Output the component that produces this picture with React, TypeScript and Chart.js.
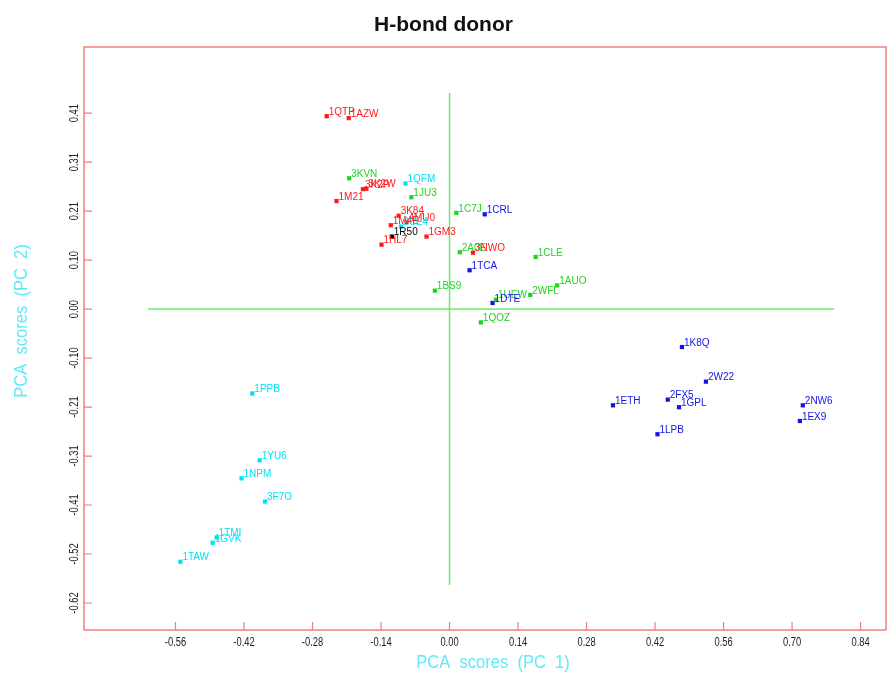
import React, { useEffect, useRef } from "react";
import { Chart, registerables } from "chart.js";

Chart.register(...registerables);

// ---- data ----
const greenNames = ["3KVN", "1JU3", "1C7J", "2A0E", "1CLE", "1BS9", "1AUO", "2WFL", "1UEW", "1QOZ"];
const greenX = [-0.205, -0.078, 0.014, 0.021, 0.176, -0.030, 0.220, 0.165, 0.095, 0.064];
const greenY = [0.276, 0.236, 0.203, 0.120, 0.110, 0.039, 0.050, 0.030, 0.020, -0.028];

const redNames = ["1QTP", "1AZW", "3K2P", "3K2W", "1M21", "3K84", "4MU0", "1M4E", "1GM3", "1HL7", "3NWO"];
const redX = [-0.251, -0.206, -0.177, -0.170, -0.231, -0.104, -0.088, -0.120, -0.047, -0.139, 0.048];
const redY = [0.407, 0.403, 0.253, 0.254, 0.228, 0.197, 0.184, 0.177, 0.153, 0.136, 0.119];

const blueNames = ["1CRL", "1TCA", "1DTE", "1K8Q", "2W22", "1ETH", "2FX5", "1GPL", "2NW6", "1EX9", "1LPB"];
const blueX = [0.072, 0.041, 0.088, 0.475, 0.524, 0.334, 0.446, 0.469, 0.722, 0.716, 0.425];
const blueY = [0.200, 0.082, 0.013, -0.080, -0.153, -0.203, -0.191, -0.207, -0.203, -0.236, -0.264];

const cyanNames = ["1QFM", "2CE4", "1PPB", "1YU6", "1NPM", "3F7O", "1TMI", "1GVK", "1TAW"];
const cyanX = [-0.090, -0.099, -0.403, -0.388, -0.425, -0.377, -0.476, -0.484, -0.550];
const cyanY = [0.265, 0.174, -0.178, -0.319, -0.357, -0.406, -0.482, -0.493, -0.533];

const blackNames = ["1R50"];
const blackX = [-0.118];
const blackY = [0.153];

const crossH = [{ x: -0.616, y: 0 }, { x: 0.786, y: 0 }];
const crossV = [{ x: 0, y: 0.456 }, { x: 0, y: -0.582 }];

const xTickValues = [-0.56, -0.42, -0.28, -0.14, 0, 0.14, 0.28, 0.42, 0.56, 0.70, 0.84];
const xTickLabels = ["-0.56", "-0.42", "-0.28", "-0.14", "0.00", "0.14", "0.28", "0.42", "0.56", "0.70", "0.84"];
const yTickValues = [0.4133, 0.31, 0.2067, 0.1033, 0, -0.1033, -0.2067, -0.31, -0.4133, -0.5167, -0.62];
const yTickLabels = ["0.41", "0.31", "0.21", "0.10", "0.00", "-0.10", "-0.21", "-0.31", "-0.41", "-0.52", "-0.62"];

const X_MIN = -0.747;
const X_MAX = 0.892;
const Y_MIN = -0.677;
const Y_MAX = 0.553;

const RED = "#ff1a1a";
const GREEN = "#1fd41f";
const BLUE = "#1414e6";
const CYAN = "#00e1f5";
const BLACK = "#000000";
const AXIS = "#f27c7c";
const CROSS = "#6ee86e";

const SANS = "'Liberation Sans', Arial, sans-serif";

const groups = [
  { names: greenNames, xs: greenX, ys: greenY, color: GREEN },
  { names: redNames, xs: redX, ys: redY, color: RED },
  { names: blueNames, xs: blueX, ys: blueY, color: BLUE },
  { names: cyanNames, xs: cyanX, ys: cyanY, color: CYAN },
  { names: blackNames, xs: blackX, ys: blackY, color: BLACK },
];

function narrowText(ctx: any, text: string, x: number, y: number, rot: number, sx: number) {
  ctx.save();
  ctx.translate(x, y);
  if (rot) ctx.rotate(rot);
  ctx.scale(sx, 1);
  ctx.fillText(text, 0, 0);
  ctx.restore();
}

const decorPlugin = {
  id: "decor",
  afterDatasetsDraw(chart: any) {
    const ctx = chart.ctx;
    const { left, right, top, bottom } = chart.chartArea;
    const xs = chart.scales.x;
    const ys = chart.scales.y;
    ctx.save();
    // point labels
    ctx.font = `10px ${SANS}`;
    ctx.textAlign = "left";
    ctx.textBaseline = "middle";
    groups.forEach((g, gi) => {
      const meta = chart.getDatasetMeta(gi);
      g.names.forEach((n, i) => {
        const el = meta.data[i];
        if (!el) return;
        ctx.fillStyle = g.color;
        ctx.fillText(n, el.x + 2, el.y - 4);
      });
    });
    // frame
    ctx.strokeStyle = AXIS;
    ctx.lineWidth = 1.5;
    ctx.strokeRect(left, top, right - left, bottom - top);
    // ticks
    ctx.lineWidth = 1.2;
    ctx.beginPath();
    xTickValues.forEach((v) => {
      const px = xs.getPixelForValue(v);
      ctx.moveTo(px, bottom);
      ctx.lineTo(px, bottom - 8);
    });
    yTickValues.forEach((v) => {
      const py = ys.getPixelForValue(v);
      ctx.moveTo(left, py);
      ctx.lineTo(left + 8, py);
    });
    ctx.stroke();
    // tick labels
    ctx.fillStyle = "#222";
    ctx.font = `12px ${SANS}`;
    ctx.textAlign = "center";
    ctx.textBaseline = "middle";
    xTickValues.forEach((v, i) => {
      narrowText(ctx, xTickLabels[i], xs.getPixelForValue(v), bottom + 13, 0, 0.78);
    });
    yTickValues.forEach((v, i) => {
      narrowText(ctx, yTickLabels[i], left - 9, ys.getPixelForValue(v), -Math.PI / 2, 0.78);
    });
    // axis titles
    ctx.fillStyle = "#5eeaf8";
    ctx.font = `18px ${SANS}`;
    narrowText(ctx, "PCA  scores  (PC  1)", (left + right) / 2 + 8, bottom + 33, 0, 0.92);
    narrowText(ctx, "PCA  scores  (PC  2)", 22, 321, -Math.PI / 2, 0.92);
    ctx.restore();
  },
};

function toPts(xs: number[], ys: number[]) {
  return xs.map((x, i) => ({ x, y: ys[i] }));
}

export default function App() {
  const ref = useRef<HTMLCanvasElement | null>(null);
  useEffect(() => {
    if (!ref.current) return;
    const pointDs = groups.map((g) => ({
      data: toPts(g.xs, g.ys),
      backgroundColor: g.color,
      borderWidth: 0,
      pointStyle: "rect",
      pointRadius: 3,
      showLine: false,
    }));
    const chart = new Chart(ref.current, {
      type: "scatter",
      data: {
        datasets: [
          ...pointDs,
          { data: crossH, showLine: true, borderColor: CROSS, borderWidth: 1.5, pointRadius: 0 },
          { data: crossV, showLine: true, borderColor: CROSS, borderWidth: 1.5, pointRadius: 0 },
        ] as any,
      },
      options: {
        animation: false,
        responsive: false,
        devicePixelRatio: 1,
        layout: { padding: { left: 0, right: 3, top: 0, bottom: 0 } },
        plugins: {
          legend: { display: false },
          tooltip: { enabled: false },
          title: {
            display: true,
            text: "H-bond donor",
            color: "#111",
            font: { size: 21, weight: "bold", family: SANS },
            padding: { top: 13, bottom: 8.8 },
          },
        },
        scales: {
          x: {
            type: "linear",
            min: X_MIN,
            max: X_MAX,
            grid: { display: false },
            border: { display: false },
            ticks: { display: false },
            afterFit: (s: any) => { s.height = 45; },
          },
          y: {
            type: "linear",
            min: Y_MIN,
            max: Y_MAX,
            grid: { display: false },
            border: { display: false },
            ticks: { display: false },
            afterFit: (s: any) => { s.width = 84; },
          },
        },
      } as any,
      plugins: [decorPlugin],
    });
    return () => chart.destroy();
  }, []);
  return (
    <div style={{ position: "absolute", left: 0, top: 0, width: 890, height: 675, background: "#fff" }}>
      <canvas ref={ref} width={890} height={675} />
    </div>
  );
}
